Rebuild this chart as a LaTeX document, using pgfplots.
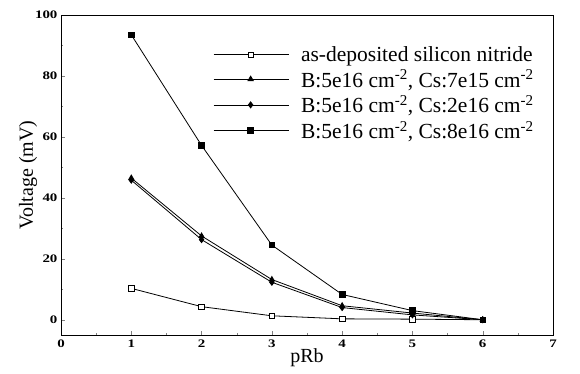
\documentclass[border=0pt]{standalone}
\usepackage{fontspec}
\setmainfont{Liberation Serif}
\newfontfamily\tickfont[FakeStretch=1.3]{Liberation Serif}
\usepackage{pgfplots}
\pgfplotsset{compat=1.18}
\begin{document}
\begin{tikzpicture}[x=1pt,y=1pt]
\begin{axis}[
  at={(0pt,0pt)}, anchor=south west,
  scale only axis, width=492pt, height=320pt,
  xmin=0, xmax=7, ymin=-5, ymax=100,
  xtick={0,1,...,7}, ytick={0,20,...,100},
  minor x tick num=1, minor y tick num=1,
  tick pos=left, tick align=inside,
  major tick length=4pt, minor tick length=2pt,
  /pgf/number format/assume math mode=true,
  tick label style={font=\tickfont\bfseries\fontsize{11.5}{13}\selectfont},
  xticklabel style={yshift=-1pt},
  xlabel={pRb}, ylabel={Voltage (mV)},
  label style={font=\fontsize{20}{24}\selectfont},
  xlabel style={yshift=6pt},
  ylabel style={yshift=-9pt},
  axis line style={line width=0.9pt},
  every axis plot/.append style={black, line width=0.8pt},
  legend cell align=left,
  legend style={draw=none, fill=none, at={(0.309,0.915)}, anchor=north west,
    font=\fontsize{21.5}{25}\selectfont, row sep=2.8pt, column sep=10pt,
    inner xsep=0pt},
  legend image code/.code={\draw[mark repeat=2,mark phase=2,#1] plot coordinates {(0pt,0pt) (37pt,0pt) (75pt,0pt)};},
]
\addplot[mark=square*, mark options={fill=white, line width=0.6pt}, mark size=2.8pt] coordinates {(1,10.3) (2,4.3) (3,1.3) (4,0.3) (5,0.2) (6,0)};
\addlegendentry{as-deposited silicon nitride}
\addplot[mark=triangle*, mark size=3pt] coordinates {(1,46.5) (2,27.5) (3,13.2) (4,4.6) (5,2.2) (6,0)};
\addlegendentry{B:5e16 cm\textsuperscript{-2}, Cs:7e15 cm\textsuperscript{-2}}
\addplot[mark=diamond*, mark size=3pt] coordinates {(1,45.8) (2,26.3) (3,12.3) (4,4.0) (5,1.6) (6,0)};
\addlegendentry{B:5e16 cm\textsuperscript{-2}, Cs:2e16 cm\textsuperscript{-2}}
\addplot[mark=square*, mark size=2.8pt] coordinates {(1,93.5) (2,57.2) (3,24.5) (4,8.3) (5,3.0) (6,0)};
\addlegendentry{B:5e16 cm\textsuperscript{-2}, Cs:8e16 cm\textsuperscript{-2}}
\end{axis}
\pgfresetboundingbox
\path[use as bounding box] (-61pt,-39pt) rectangle (519pt,335pt);
\end{tikzpicture}
\end{document}
